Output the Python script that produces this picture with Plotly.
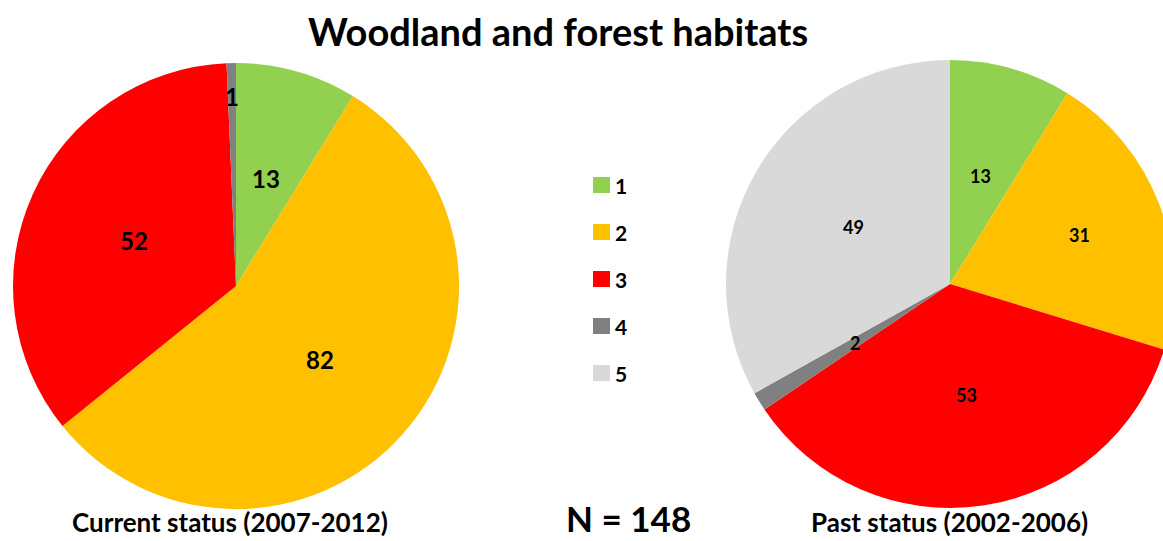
import math
import plotly.graph_objects as go

# Habitat status classes and counts per assessment period
categories = ["1", "2", "3", "4", "5"]
current_counts = [13, 82, 52, 1, 0]
past_counts = [13, 31, 53, 2, 49]
colors = ["#92D050", "#FFC000", "#FF0000", "#808080", "#D9D9D9"]

title_text = "Woodland and forest habitats"
current_label = "Current status (2007-2012)"
past_label = "Past status (2002-2006)"
n_label = "N = 148"

W, H = 1200, 541
FONT = "Lato, 'Open Sans', sans-serif"

# Pie geometry in pixels: centre x, centre y, radius
CURRENT_PIE = (236, 286, 223)
PAST_PIE = (950, 284, 224)
# Radial position of each value label, as a fraction of the radius
CURRENT_LABEL_R = [0.5, 0.5, 0.5, 0.85, 0.5]
PAST_LABEL_R = [0.5, 0.62, 0.5, 0.5, 0.5]


def px_domain(cx, cy, r):
    """Square paper domain around a pixel circle (top-left origin)."""
    return dict(x=[(cx - r) / W, (cx + r) / W],
                y=[(H - cy - r) / H, (H - cy + r) / H])


def pie(values, geom):
    return go.Pie(
        labels=categories,
        values=values,
        textinfo="none",
        marker=dict(colors=colors, line=dict(width=0)),
        sort=False,
        direction="clockwise",
        rotation=0,
        showlegend=False,
        hoverinfo="label+value",
        domain=px_domain(*geom),
    )


def value_labels(values, geom, fractions, size):
    """Place each slice's value at its mid-angle (clockwise from 12 o'clock)."""
    cx, cy, r = geom
    total = float(sum(values))
    out, cum = [], 0.0
    for v, f in zip(values, fractions):
        mid = (cum + v / 2.0) / total * 2 * math.pi
        cum += v
        if not v:
            continue
        x = cx + f * r * math.sin(mid)
        y = cy - f * r * math.cos(mid)
        out.append(dict(text="<b>%d</b>" % v, x=x / W, y=1 - y / H,
                        font=dict(size=size, family=FONT, color="#000000")))
    return out


fig = go.Figure()
fig.add_trace(pie(current_counts, CURRENT_PIE))
fig.add_trace(pie(past_counts, PAST_PIE))

annotations = [
    dict(text="<b>%s</b>" % title_text, x=558 / W, y=1 - 31 / H,
         font=dict(size=38, family=FONT, color="#000000")),
    dict(text="<b>%s</b>" % current_label, x=230 / W, y=1 - 522 / H,
         font=dict(size=26, family=FONT, color="#000000")),
    dict(text="<b>%s</b>" % past_label, x=949 / W, y=1 - 522 / H,
         font=dict(size=26, family=FONT, color="#000000")),
    dict(text="<b>%s</b>" % n_label, x=628 / W, y=1 - 518 / H,
         font=dict(size=35, family=FONT, color="#000000")),
]
annotations += value_labels(current_counts, CURRENT_PIE, CURRENT_LABEL_R, 24)
annotations += value_labels(past_counts, PAST_PIE, PAST_LABEL_R, 18)

# Legend drawn as coloured squares with class labels
shapes = []
for i, (cat, col) in enumerate(zip(categories, colors)):
    cy = 185 + i * 47
    shapes.append(dict(type="rect", xref="paper", yref="paper",
                       x0=593 / W, x1=610 / W,
                       y0=1 - (cy + 8) / H, y1=1 - (cy - 8) / H,
                       fillcolor=col, line=dict(width=0)))
    annotations.append(dict(text="<b>%s</b>" % cat, x=613 / W, y=1 - cy / H,
                            xanchor="left",
                            font=dict(size=21, family=FONT, color="#000000")))

for a in annotations:
    a.update(xref="paper", yref="paper", showarrow=False)
    a.setdefault("xanchor", "center")
    a.setdefault("yanchor", "middle")

fig.update_layout(
    width=W, height=H,
    margin=dict(l=0, r=0, t=0, b=0),
    paper_bgcolor="#FFFFFF",
    plot_bgcolor="#FFFFFF",
    annotations=annotations,
    shapes=shapes,
)

fig.write_html(
    "out.html",
    post_script="document.documentElement.style.overflow='hidden';"
                "document.body.style.overflow='hidden';",
)
